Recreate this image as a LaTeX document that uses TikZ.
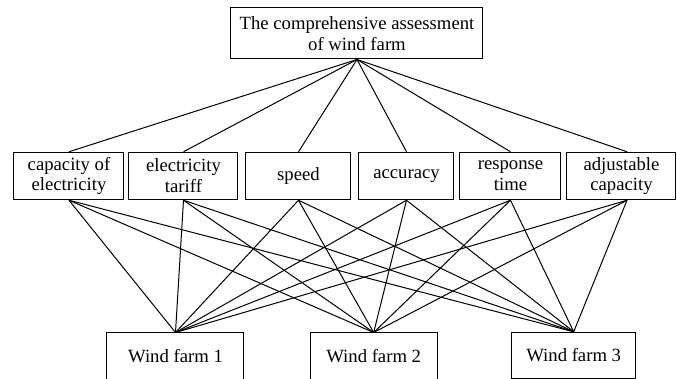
\documentclass[tikz,border=0pt]{standalone}
\usepackage{fontspec}
\setmainfont{Liberation Serif}
\usetikzlibrary{positioning}

\begin{document}
\begin{tikzpicture}[x=0.5pt, y=-0.5pt, line width=0.5pt,
  box/.style={draw, align=center, inner sep=0pt, font=\fontsize{9.35}{10.4}\selectfont}]
\clip (0,0) rectangle (677,379);

% goal
\node[box, minimum width=126pt, minimum height=25.5pt] (goal) at (357,33.5) {The comprehensive assessment\\of wind farm};

% criteria
\node[box, minimum width=55pt,   minimum height=23.75pt] (c1) at (69,176)    {capacity of\\electricity};
\node[box, minimum width=54.5pt, minimum height=23.75pt] (c2) at (183.5,176) {electricity\\tariff};
\node[box, minimum width=52.5pt, minimum height=23.75pt] (c3) at (298.5,176) {speed};
\node[box, minimum width=47.5pt, minimum height=23.75pt] (c4) at (406.5,176) {accuracy};
\node[box, minimum width=50.5pt, minimum height=23.75pt] (c5) at (510.5,176) {response\\time};
\node[box, minimum width=54.5pt, minimum height=23.75pt] (c6) at (621.5,176) {adjustable\\capacity};

% alternatives
\node[box, minimum width=68.5pt, minimum height=23.5pt] (w1) at (175.5,356.5) {Wind farm 1};
\node[box, minimum width=63.5pt, minimum height=23.5pt] (w2) at (373.7,356.5) {Wind farm 2};
\node[box, minimum width=62pt,   minimum height=23pt]   (w3) at (573.7,355.3) {Wind farm 3};

\foreach \c/\s in {c1/0pt,c2/0pt,c3/0pt,c4/0pt,c5/0pt,c6/2.75pt} {
  \draw (goal.south) -- ([xshift=\s]\c.north);
  \foreach \w in {w1,w2,w3}
    \draw ([xshift=\s]\c.south) -- (\w.north);
}
\end{tikzpicture}
\end{document}
